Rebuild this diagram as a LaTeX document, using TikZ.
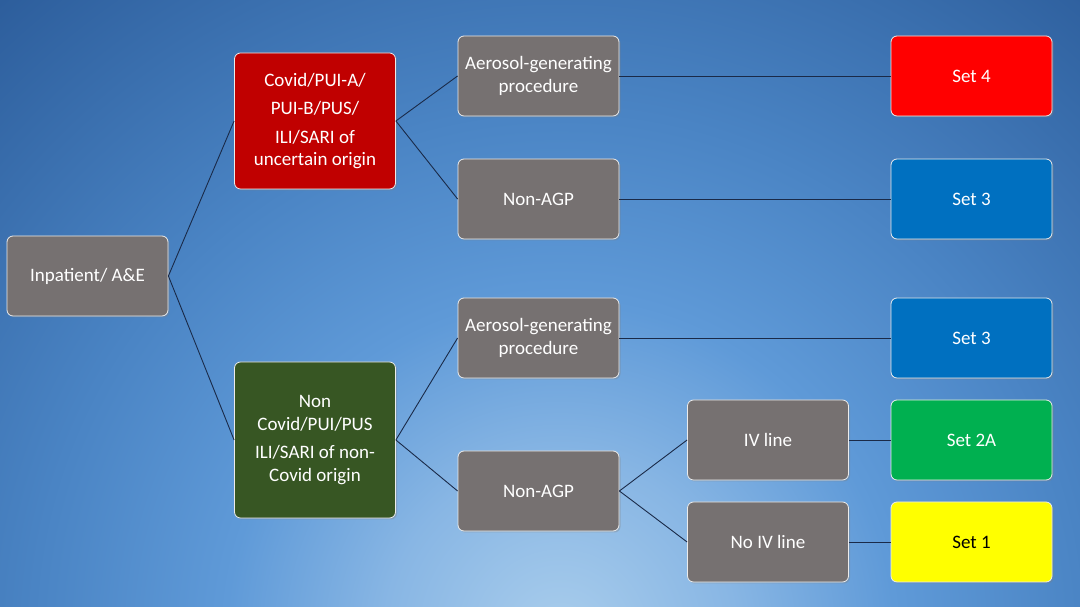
\documentclass[tikz,border=0pt]{standalone}
\usepackage{fontspec}
\setmainfont{Carlito}
\usetikzlibrary{shadows}
\definecolor{bgdark}{HTML}{2A5A98}
\definecolor{bgc4}{HTML}{3A6FAE}
\definecolor{bgc3}{HTML}{4A84C4}
\definecolor{bgmid}{HTML}{5F9AD8}
\definecolor{bgc1}{HTML}{88B6E4}
\definecolor{bglight}{HTML}{A9CDEC}
\definecolor{greybox}{HTML}{767171}
\definecolor{darkred}{HTML}{C00000}
\definecolor{brightred}{HTML}{FF0000}
\definecolor{setblue}{HTML}{0070C0}
\definecolor{setgreen}{HTML}{00B050}
\definecolor{setyellow}{HTML}{FFFF00}
\definecolor{darkgreen}{HTML}{375623}
\definecolor{linkcol}{HTML}{1A2A48}
\pgfdeclareradialshading{bgshade}{\pgfpoint{0bp}{0bp}}{color(0bp)=(bglight); color(5bp)=(bgc1); color(9.5bp)=(bgmid); color(15bp)=(bgc3); color(20bp)=(bgc4); color(25bp)=(bgdark); color(50bp)=(bgdark)}
\tikzset{
  box/.style={draw=white!85!gray, line width=0.8pt, rounded corners=6pt, minimum width=161pt, minimum height=80pt, text=white, align=center, font=\fontsize{19}{22.5}\selectfont, inner sep=2pt, drop shadow={opacity=0.35, shadow xshift=1.5pt, shadow yshift=-1.5pt}},
  link/.style={draw=linkcol, line width=0.9pt}
}
\begin{document}
\begin{tikzpicture}[x=1pt,y=1pt]
\useasboundingbox (0,0) rectangle (1080,607);
\begin{scope}
\clip (0,0) rectangle (1080,607);
\shade[shading=bgshade] (560,-30) circle (880);
\end{scope}
% column 1
\node[box, fill=greybox] (inp) at (87.5,331) {Inpatient/ A\&E};
% column 2
\node[box, fill=darkred, minimum height=136pt] (cov) at (315,486) {Covid/PUI-A/\\[6pt]PUI-B/PUS/\\[6pt]ILI/SARI of\\uncertain origin};
\node[box, fill=darkgreen, minimum height=156pt] (non) at (315,167) {Non\\Covid/PUI/PUS\\[6pt]ILI/SARI of non-\\Covid origin};
% column 3
\node[box, fill=greybox] (agp1) at (538.5,531) {Aerosol-generating\\procedure};
\node[box, fill=greybox] (nagp1) at (538.5,408) {Non-AGP};
\node[box, fill=greybox] (agp2) at (538.5,269) {Aerosol-generating\\procedure};
\node[box, fill=greybox] (nagp2) at (538.5,116) {Non-AGP};
% column 4
\node[box, fill=greybox] (iv) at (768,167) {IV line};
\node[box, fill=greybox] (noiv) at (768,65) {No IV line};
% column 5
\node[box, fill=brightred] (s4) at (971.5,531) {Set 4};
\node[box, fill=setblue] (s3a) at (971.5,408) {Set 3};
\node[box, fill=setblue] (s3b) at (971.5,269) {Set 3};
\node[box, fill=setgreen] (s2a) at (971.5,167) {Set 2A};
\node[box, fill=setyellow, text=black] (s1) at (971.5,65) {Set 1};
% links
\draw[link] (inp.east) -- (cov.west);
\draw[link] (inp.east) -- (non.west);
\draw[link] (cov.east) -- (agp1.west);
\draw[link] (cov.east) -- (nagp1.west);
\draw[link] (non.east) -- (agp2.west);
\draw[link] (non.east) -- (nagp2.west);
\draw[link] (nagp2.east) -- (iv.west);
\draw[link] (nagp2.east) -- (noiv.west);
\draw[link] (agp1.east) -- (s4.west);
\draw[link] (nagp1.east) -- (s3a.west);
\draw[link] (agp2.east) -- (s3b.west);
\draw[link] (iv.east) -- (s2a.west);
\draw[link] (noiv.east) -- (s1.west);
\end{tikzpicture}
\end{document}
